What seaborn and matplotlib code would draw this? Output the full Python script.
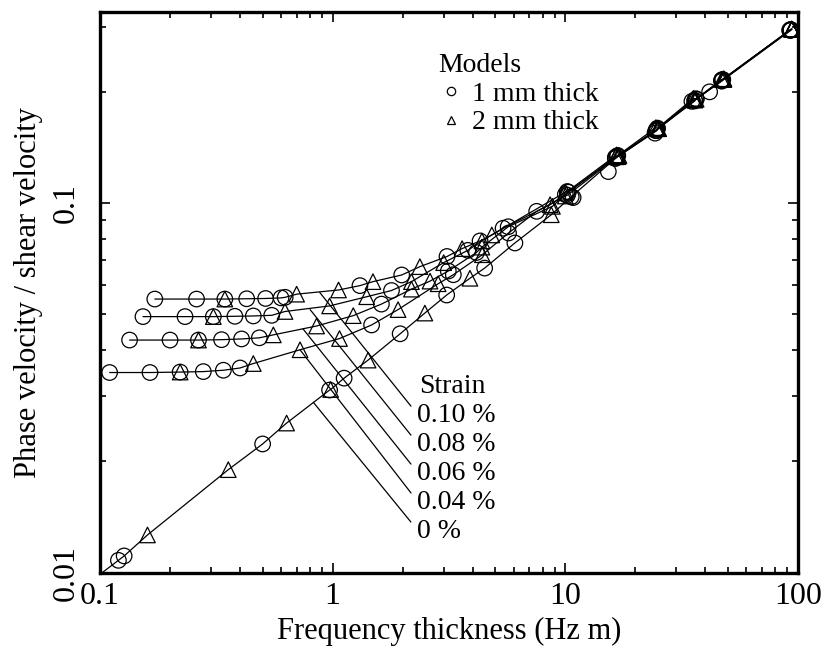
import numpy as np
import pandas as pd
import matplotlib
matplotlib.use("Agg")
import matplotlib.pyplot as plt
from matplotlib.lines import Line2D
from matplotlib.ticker import FixedLocator, LogLocator, NullFormatter
import seaborn as sns

# ---------------------------------------------------------------------------
# Dispersion data: frequency-thickness (Hz m) vs phase velocity / shear velocity
# ---------------------------------------------------------------------------
strain_labels = ["0.10 %", "0.08 %", "0.06 %", "0.04 %", "0 %"]
model_labels = ["1 mm thick", "2 mm thick"]

# strain 0.10 %
fh_1mm_010 = [0.172, 0.260, 0.344, 0.427, 0.515, 0.600, 0.625, 1.31, 1.98, 3.10, 4.30, 10.2, 16.8, 24.9, 36.5, 47.5, 93.0]
v_1mm_010 = [0.0550, 0.0550, 0.0550, 0.0551, 0.0552, 0.0554, 0.0556, 0.0598, 0.0639, 0.0717, 0.0790, 0.1075, 0.1345, 0.1595, 0.1915, 0.2160, 0.2950]
fh_2mm_010 = [0.344, 0.70, 1.06, 1.49, 2.37, 3.6, 4.83, 10.0, 16.6, 24.5, 35.5, 47.0, 94.0]
v_2mm_010 = [0.0550, 0.0567, 0.0582, 0.0613, 0.0673, 0.0753, 0.0820, 0.1070, 0.1350, 0.1600, 0.1920, 0.2160, 0.2960]

# strain 0.08 %
fh_1mm_008 = [0.153, 0.232, 0.307, 0.380, 0.456, 0.547, 1.79, 3.81, 5.40, 10.3, 16.7, 24.8, 36.5, 47.0, 93.0]
v_1mm_008 = [0.0493, 0.0493, 0.0493, 0.0494, 0.0495, 0.0497, 0.0580, 0.0745, 0.0855, 0.1070, 0.1340, 0.1585, 0.1910, 0.2155, 0.2945]
fh_2mm_008 = [0.307, 0.624, 0.97, 1.40, 2.18, 3.0, 4.38, 8.6, 16.5, 25.0, 36.0, 47.5, 94.0]
v_2mm_008 = [0.0493, 0.0509, 0.0527, 0.0558, 0.0613, 0.0690, 0.0790, 0.0990, 0.1335, 0.1595, 0.1915, 0.2165, 0.2955]

# strain 0.06 %
fh_1mm_006 = [0.134, 0.200, 0.265, 0.333, 0.406, 0.484, 1.62, 3.14, 4.15, 5.68, 10.0, 16.4, 24.6, 36.0, 47.0, 92.0]
v_1mm_006 = [0.0426, 0.0426, 0.0426, 0.0427, 0.0429, 0.0432, 0.0533, 0.0655, 0.0735, 0.0863, 0.1055, 0.1330, 0.1575, 0.1895, 0.2145, 0.2935]
fh_2mm_006 = [0.265, 0.556, 0.853, 1.226, 2.18, 2.62, 4.38, 8.8, 17.0, 25.0, 36.5, 48.0, 94.0]
v_2mm_006 = [0.0426, 0.0440, 0.0465, 0.0496, 0.0585, 0.0615, 0.0760, 0.0980, 0.1345, 0.1590, 0.1910, 0.2170, 0.2955]

# strain 0.04 %
fh_1mm_004 = [0.110, 0.164, 0.221, 0.278, 0.339, 0.400, 1.47, 3.30, 5.70, 7.53, 10.2, 16.6, 24.5, 35.0, 47.0, 93.0]
v_1mm_004 = [0.0348, 0.0348, 0.0349, 0.0350, 0.0353, 0.0358, 0.0468, 0.0640, 0.0830, 0.0950, 0.1050, 0.1330, 0.1570, 0.1885, 0.2140, 0.2935]
fh_2mm_004 = [0.221, 0.456, 0.724, 1.07, 1.91, 2.84, 4.40, 10.0, 16.9, 25.2, 36.0, 48.0, 94.0]
v_2mm_004 = [0.0349, 0.0368, 0.0401, 0.0430, 0.0515, 0.0605, 0.0725, 0.1045, 0.1340, 0.1590, 0.1905, 0.2165, 0.2955]

# strain 0 %
fh_1mm_000 = [0.120, 0.127, 0.50, 0.97, 1.12, 1.95, 3.09, 4.50, 6.07, 10.6, 16.4, 24.7, 36.0, 47.0, 93.0]
v_1mm_000 = [0.0108, 0.0111, 0.0223, 0.0312, 0.0336, 0.0443, 0.0564, 0.0667, 0.0780, 0.1040, 0.1320, 0.1570, 0.1890, 0.2140, 0.2935]
fh_2mm_000 = [0.160, 0.356, 0.634, 0.98, 1.42, 2.49, 3.89, 8.7, 16.8, 25.0, 36.0, 48.0, 94.0]
v_2mm_000 = [0.01265, 0.0190, 0.0254, 0.0313, 0.0376, 0.0504, 0.0626, 0.0930, 0.1335, 0.1590, 0.1900, 0.2160, 0.2955]

# 1 mm model results lying slightly off the curves
fh_1mm_off = [10.8, 15.3, 24.3, 41.7]
v_1mm_off = [0.1035, 0.1217, 0.1546, 0.2000]

# low-frequency start of the 0 % curve
fh_curve0_start = [0.100]
v_curve0_start = [0.0099]

# Leader lines: point on each curve and label position
leader_fh = [0.88, 0.80, 0.745, 0.724, 0.826]
leader_v = [0.0573, 0.0515, 0.0457, 0.0401, 0.0289]
label_fh = 2.30
label_v = [0.02655, 0.02216, 0.0185, 0.01544, 0.0129]
strain_title_v = 0.0318

x_ticks = [0.1, 1, 10, 100]
x_tick_labels = ["0.1", "1", "10", "100"]
y_ticks = [0.01, 0.1]
y_tick_labels = ["0.01", "0.1"]

series = {
    "0.10 %": (fh_1mm_010, v_1mm_010, fh_2mm_010, v_2mm_010),
    "0.08 %": (fh_1mm_008, v_1mm_008, fh_2mm_008, v_2mm_008),
    "0.06 %": (fh_1mm_006, v_1mm_006, fh_2mm_006, v_2mm_006),
    "0.04 %": (fh_1mm_004, v_1mm_004, fh_2mm_004, v_2mm_004),
    "0 %": (fh_1mm_000, v_1mm_000, fh_2mm_000, v_2mm_000),
}

rows = []
for strain in strain_labels:
    x1, y1, x2, y2 = series[strain]
    rows += [(strain, model_labels[0], x, y) for x, y in zip(x1, y1)]
    rows += [(strain, model_labels[1], x, y) for x, y in zip(x2, y2)]
markers_df = pd.DataFrame(rows, columns=["strain", "model", "fh", "v"])

off_df = pd.DataFrame({"strain": "0 %", "model": model_labels[0],
                       "fh": fh_1mm_off, "v": v_1mm_off})
head_df = pd.DataFrame({"strain": "0 %", "model": "curve",
                        "fh": fh_curve0_start, "v": v_curve0_start})
lines_df = pd.concat([markers_df, head_df], ignore_index=True)
points_df = pd.concat([markers_df, off_df], ignore_index=True)

# ---------------------------------------------------------------------------
sns.set_theme(style="ticks")
plt.rcParams["font.family"] = ["Liberation Serif", "DejaVu Serif"]
plt.rcParams["text.color"] = "black"
plt.rcParams["axes.labelcolor"] = "black"
plt.rcParams["xtick.color"] = "black"
plt.rcParams["ytick.color"] = "black"

fig = plt.figure(figsize=(8.21, 6.53), dpi=100)
ax = fig.add_axes([0.1218, 0.1230, 0.8502, 0.8587])
ax.set_xscale("log")
ax.set_yscale("log")

sns.lineplot(data=lines_df, x="fh", y="v", units="strain", estimator=None,
             sort=True, color="black", linewidth=0.9, legend=False, ax=ax)
sns.scatterplot(data=points_df, x="fh", y="v", style="model",
                markers={model_labels[0]: "o", model_labels[1]: "^"},
                s=125, facecolor="none", edgecolor="black", linewidth=0.9,
                legend=False, ax=ax, zorder=3)

# leader lines and strain labels
for strain, fx, fy, ly in zip(strain_labels, leader_fh, leader_v, label_v):
    ax.annotate(strain, xy=(fx, fy), xytext=(label_fh, ly),
                ha="left", va="center", fontsize=20,
                arrowprops=dict(arrowstyle="-", color="black", lw=0.9,
                                shrinkA=3, shrinkB=0, relpos=(0, 0.6)))
ax.text(label_fh * 1.02, strain_title_v, "Strain", ha="left", va="center", fontsize=20)

# legend for the two models
handles = [Line2D([], [], ls="none", marker="o", mfc="none", mec="black", ms=6, mew=0.9),
           Line2D([], [], ls="none", marker="^", mfc="none", mec="black", ms=6, mew=0.9)]
leg = ax.legend(handles, model_labels, title="Models", loc="upper left",
                bbox_to_anchor=(0.485, 0.927), frameon=False, fontsize=20,
                title_fontsize=20, alignment="left", handlelength=0.9,
                handletextpad=0.3, labelspacing=0.12, borderpad=0,
                borderaxespad=0)

ax.set_xlim(0.1, 100)
ax.set_ylim(0.01, 0.329)
ax.xaxis.set_major_locator(FixedLocator(x_ticks))
ax.set_xticklabels(x_tick_labels)
ax.xaxis.set_minor_locator(LogLocator(base=10, subs=np.arange(2, 10)))
ax.xaxis.set_minor_formatter(NullFormatter())
ax.yaxis.set_major_locator(FixedLocator(y_ticks))
ax.set_yticklabels(y_tick_labels, rotation=90, va="center")
ax.yaxis.set_minor_locator(LogLocator(base=10, subs=np.arange(2, 10)))
ax.yaxis.set_minor_formatter(NullFormatter())

ax.tick_params(which="both", direction="in", top=True, right=True,
               width=1.2, labelsize=23)
ax.tick_params(which="major", length=7)
ax.tick_params(which="minor", length=4)
ax.tick_params(axis="x", which="major", pad=7)
ax.tick_params(axis="y", which="major", pad=14)
for sp in ax.spines.values():
    sp.set_linewidth(2.4)
    sp.set_color("black")

ax.set_xlabel("Frequency thickness (Hz m)", fontsize=22, labelpad=4)
ax.set_ylabel("Phase velocity / shear velocity", fontsize=22, labelpad=6)

fig.savefig("out.png", dpi=100, facecolor="white")
